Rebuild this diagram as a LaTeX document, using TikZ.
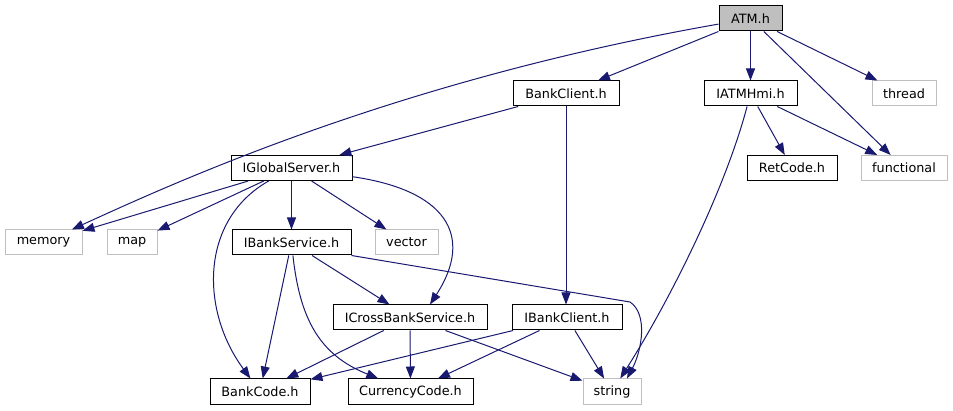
\documentclass[tikz,border=0pt]{standalone}
\usepackage{fontspec}
\setmainfont{DejaVu Sans}
\usetikzlibrary{arrows.meta,positioning,calc}
\definecolor{edgeblue}{HTML}{191970}
\definecolor{extgray}{HTML}{BFBFBF}

\begin{document}
\begin{tikzpicture}[x=1pt, y=-1pt,
  file/.style={draw=black, fill=white, line width=1pt, minimum height=25pt, inner sep=0pt, font=\fontsize{12.8}{15}\selectfont},
  sysfile/.style={file, draw=extgray},
  inc/.style={edgeblue, line width=1pt, -{Triangle[length=12pt, width=9pt]}}]
\useasboundingbox (0,0) rectangle (953,411);

% Top level
\node[file, fill=extgray, minimum width=63pt] (atm) at (750.5,18.5) {ATM.h};

% Second row
\node[file, minimum width=106pt] (bankclient) at (566,93.5) {BankClient.h};
\node[file, minimum width=93pt] (iatmhmi) at (750.5,93.5) {IATMHmi.h};
\node[sysfile, minimum width=64pt] (thread) at (904,93.5) {thread};

% Third row
\node[file, minimum width=121pt] (igs) at (291.5,168) {IGlobalServer.h};
\node[file, minimum width=90pt] (retcode) at (792,168) {RetCode.h};
\node[sysfile, minimum width=86pt] (functional) at (904,168) {functional};

% Fourth row
\node[sysfile, minimum width=77pt] (memory) at (43.5,242.5) {memory};
\node[sysfile, minimum width=50pt] (map) at (132,242.5) {map};
\node[file, minimum width=119pt] (ibankservice) at (291.5,242.5) {IBankService.h};
\node[sysfile, minimum width=63pt] (vector) at (406.5,242.5) {vector};

% Fifth row
\node[file, minimum width=154pt] (icross) at (410,317.5) {ICrossBankService.h};
\node[file, minimum width=110pt] (ibankclient) at (567,317.5) {IBankClient.h};

% Bottom row
\node[file, minimum width=100pt] (bankcode) at (260,391.5) {BankCode.h};
\node[file, minimum width=125pt] (currency) at (410.5,391.5) {CurrencyCode.h};
\node[sysfile, minimum width=58pt] (string) at (612,391.5) {string};

% Includes of ATM.h
\draw[inc] (atm) .. controls (400,80) and (180,180) .. (memory);
\draw[inc] (atm) -- (bankclient);
\draw[inc] (atm) -- (iatmhmi);
\draw[inc] (atm) -- (functional);
\draw[inc] (atm) -- (thread);

% Includes of BankClient.h and IATMHmi.h
\draw[inc] (bankclient) -- (igs);
\draw[inc] (bankclient) -- (bankclient |- ibankclient.north);
\draw[inc] (iatmhmi) .. controls (725,190) and (670,300) .. (string);
\draw[inc] (iatmhmi) -- (retcode);
\draw[inc] (iatmhmi) -- (functional);

% Includes of IGlobalServer.h
\draw[inc] (igs) -- (memory);
\draw[inc] (igs) -- (map);
\draw[inc] (igs) .. controls (200,220) and (200,310) .. (bankcode);
\draw[inc] (igs) -- (ibankservice);
\draw[inc] (igs) -- (vector);
\draw[inc] (igs) .. controls (445,190) and (475,235) .. ([xshift=20pt]icross.north);

% Includes of IBankService.h
\coordinate (sbend) at (630,302);
\draw[inc] (ibankservice) -- (bankcode);
\draw[inc] (ibankservice) .. controls (300,320) and (320,355) .. (currency);
\draw[inc] (ibankservice) -- (icross);
\draw[inc] (ibankservice.south east) -- (sbend) .. controls (648,314) and (642,350) .. ([xshift=15pt]string.north);

% Includes of ICrossBankService.h
\draw[inc] (icross) -- (bankcode);
\draw[inc] (icross) -- (currency);
\draw[inc] (icross) -- (string);

% Includes of IBankClient.h
\draw[inc] (ibankclient) -- (bankcode);
\draw[inc] (ibankclient) -- (currency);
\draw[inc] (ibankclient) -- (string);
\end{tikzpicture}
\end{document}
